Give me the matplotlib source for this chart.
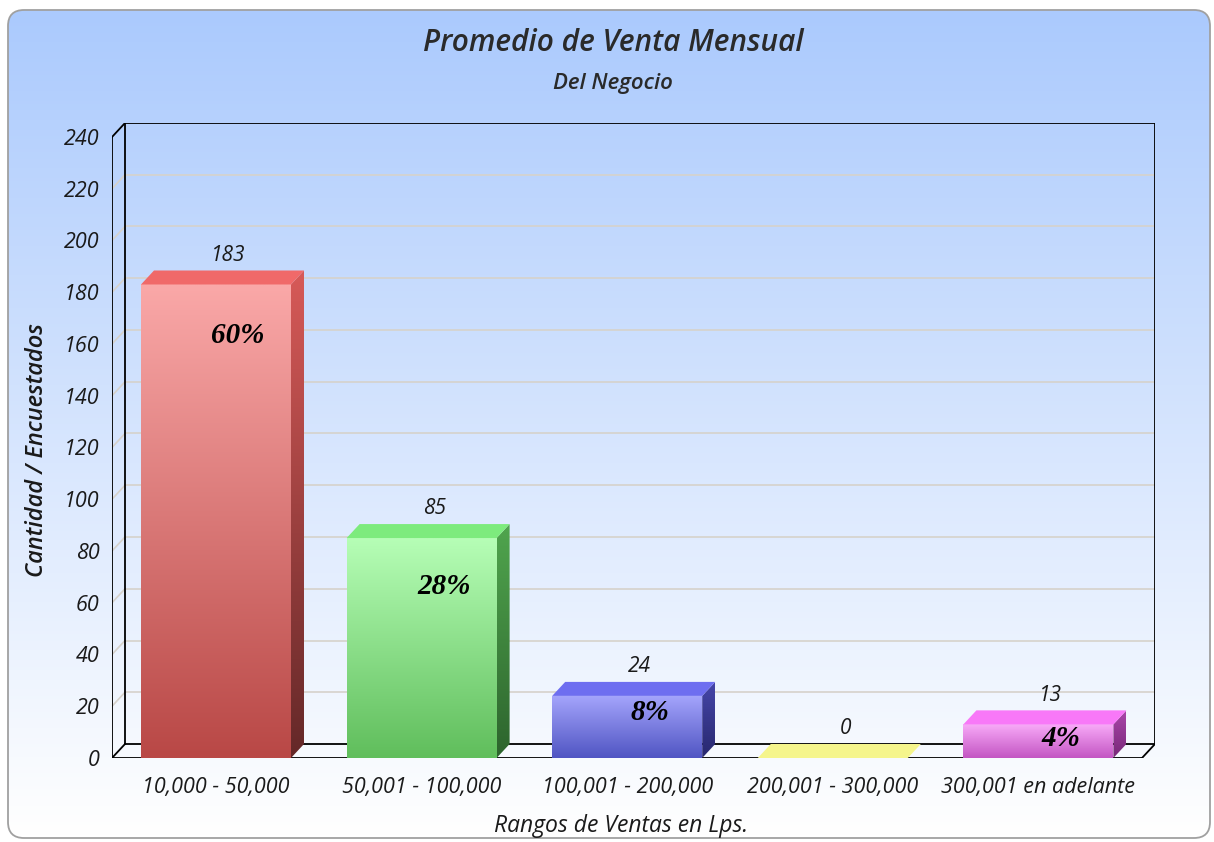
import numpy as np
import matplotlib
matplotlib.use("Agg")
import matplotlib.pyplot as plt
from matplotlib.patches import Polygon, FancyBboxPatch

## Data
categories = ["10,000 - 50,000", "50,001 - 100,000", "100,001 - 200,000",
              "200,001 - 300,000", "300,001 en adelante"]
values = [183, 85, 24, 0, 13]
percents = ["60%", "28%", "8%", "", "4%"]
yticks = list(range(0, 241, 20))

# colours: front top, front bottom, side top, side bottom, top face
bar_colors = [
    [(250, 168, 168), (185, 72, 70), (215, 90, 88), (100, 40, 40), (240, 105, 105)],
    [(182, 254, 182), (96, 190, 92), (80, 165, 78), (45, 100, 45), (125, 235, 125)],
    [(165, 165, 252), (80, 85, 195), (70, 70, 170), (40, 40, 110), (110, 110, 240)],
    [(245, 245, 140), (230, 230, 110), (200, 200, 90), (170, 170, 70), (245, 245, 140)],
    [(248, 170, 248), (195, 85, 195), (170, 70, 170), (120, 40, 120), (248, 120, 248)],
]

plt.rcParams['font.family'] = ['Open Sans', 'DejaVu Sans']

W, H = 1214, 842
fig = plt.figure(figsize=(W / 100, H / 100), dpi=100)
fig.patch.set_facecolor("white")

## background panel with gradient
bg = fig.add_axes([0, 0, 1, 1])
bg.set_xlim(0, W)
bg.set_ylim(H, 0)
bg.axis("off")
box = FancyBboxPatch((8, 10), 1202, 828, boxstyle="round,pad=0,rounding_size=16",
                     facecolor="none", edgecolor="#a0a0a0", lw=1.3, zorder=3)
bg.add_patch(box)
grad = np.linspace(0, 1, 256)[:, None]
top_c = np.array([171, 202, 253]) / 255.0
bot_c = np.array([255, 255, 255]) / 255.0
img = top_c * (1 - grad[..., None]) + bot_c * grad[..., None]
im = bg.imshow(img, extent=[8, 1210, 838, 10], aspect="auto", zorder=1)
im.set_clip_path(box)
bg.set_xlim(0, W)
bg.set_ylim(H, 0)

## main axes (front plane)
left_px, right_px, bot_px, top_px = 112, 1155, 758, 123
ax = fig.add_axes([left_px / W, 1 - bot_px / H, (right_px - left_px) / W, (bot_px - top_px) / H])
ax.patch.set_alpha(0)
px_per_cat = 205.6
px_per_val = (758 - 137) / 240.0
dx = 13 / px_per_cat
dy = 14 / px_per_val
x0 = -104 / px_per_cat
x1 = x0 + 1030 / px_per_cat
ax.set_xlim(x0, x1 + dx)
ax.set_ylim(0, 240 + dy)
for s in ax.spines.values():
    s.set_visible(False)

# gridlines on back wall and left wall
for v in yticks[1:-1]:
    ax.plot([x0 + dx, x1 + dx], [v + dy, v + dy], color="#d6d2cb", lw=1.2, zorder=1)
    ax.plot([x0, x0 + dx], [v, v + dy], color="#d6d2cb", lw=1.2, zorder=1)

# frame
k = dict(color="black", lw=1.3, zorder=2, solid_capstyle="projecting")
ax.plot([x0, x0], [0, 240], **k)
ax.plot([x0 + dx, x0 + dx], [dy, 240 + dy], **k)
ax.plot([x0, x0 + dx], [240, 240 + dy], **k)
ax.plot([x0, x0 + dx], [0, dy], **k)
ax.plot([x0 + dx, x1 + dx], [240 + dy, 240 + dy], **k)
ax.plot([x1 + dx, x1 + dx], [dy, 240 + dy], **k)
ax.plot([x0 + dx, x1 + dx], [dy, dy], **k)
ax.plot([x0, x1], [0, 0], **k)
ax.plot([x1, x1 + dx], [0, dy], **k)


def grad_poly(pts, c_top, c_bot, zorder):
    pts = np.array(pts)
    poly = Polygon(pts, closed=True, facecolor="none", edgecolor="none", zorder=zorder)
    ax.add_patch(poly)
    g = np.linspace(0, 1, 128)[:, None, None]
    ct = np.array(c_top) / 255.0
    cb = np.array(c_bot) / 255.0
    arr = cb * (1 - g) + ct * g
    ymin, ymax = pts[:, 1].min(), pts[:, 1].max()
    if ymax - ymin < 1e-6:
        ymax = ymin + 1e-3
    m = ax.imshow(arr, extent=[pts[:, 0].min(), pts[:, 0].max(), ymin, ymax],
                  origin="lower", aspect="auto", zorder=zorder, interpolation="bilinear")
    m.set_clip_path(poly)


hw = 75 / px_per_cat
for i, v in enumerate(values):
    c = bar_colors[i]
    a, b = i - hw, i + hw
    if v > 0:
        grad_poly([(a, 0), (b, 0), (b, v), (a, v)], c[0], c[1], 4)
        grad_poly([(b, 0), (b + dx, dy), (b + dx, v + dy), (b, v)], c[2], c[3], 4)
    top = Polygon([(a, v), (b, v), (b + dx, v + dy), (a + dx, v + dy)], closed=True,
                  facecolor=np.array(c[4]) / 255.0, edgecolor="none", zorder=5)
    ax.add_patch(top)
    ax.annotate(str(v), (i, v), xytext=(9, 21), textcoords="offset points",
                ha="center", va="center", fontsize=15, style="italic", color="#1a1a1a",
                fontweight="medium", zorder=6)

# percent labels (placed by hand inside bars)
pct_drop = [-37, -35, -12, 0, -10]
for i, v in enumerate(values):
    if percents[i]:
        ax.annotate(percents[i], (i, v), xytext=(16, pct_drop[i]), textcoords="offset points",
                    ha="center", va="center", fontsize=21, fontweight="bold",
                    style="italic", family="Liberation Serif", color="black", zorder=7)

ax.set_yticks(yticks)
ax.set_yticklabels([str(t) for t in yticks], fontsize=15.5, style="italic",
                   color="#1a1a1a", fontweight="medium")
ax.set_xticks(range(len(categories)))
ax.set_xticklabels(categories, fontsize=15.5, style="italic", color="#1a1a1a",
                   fontweight="medium")
ax.tick_params(axis="y", length=0, pad=9)
ax.tick_params(axis="x", length=0, pad=14)
ax.set_xlim(x0, x1 + dx)
ax.set_ylim(0, 240 + dy)

fig.text(613 / W, 1 - 43 / H, "Promedio de Venta Mensual", ha="center", va="center",
         fontsize=21.5, style="italic", fontweight="semibold", color="#2a2a2a")
fig.text(613 / W, 1 - 84 / H, "Del Negocio", ha="center", va="center",
         fontsize=16, style="italic", fontweight="semibold", color="#2a2a2a")
fig.text(621 / W, 1 - 826 / H, "Rangos de Ventas en Lps.", ha="center", va="center",
         fontsize=16.5, style="italic", fontweight="medium", color="#1a1a1a")
fig.text(37 / W, 1 - 450 / H, "Cantidad / Encuestados", ha="center", va="center",
         rotation=90, fontsize=17, style="italic", fontweight="semibold", color="#1a1a1a")

fig.savefig("out.png", dpi=100)
